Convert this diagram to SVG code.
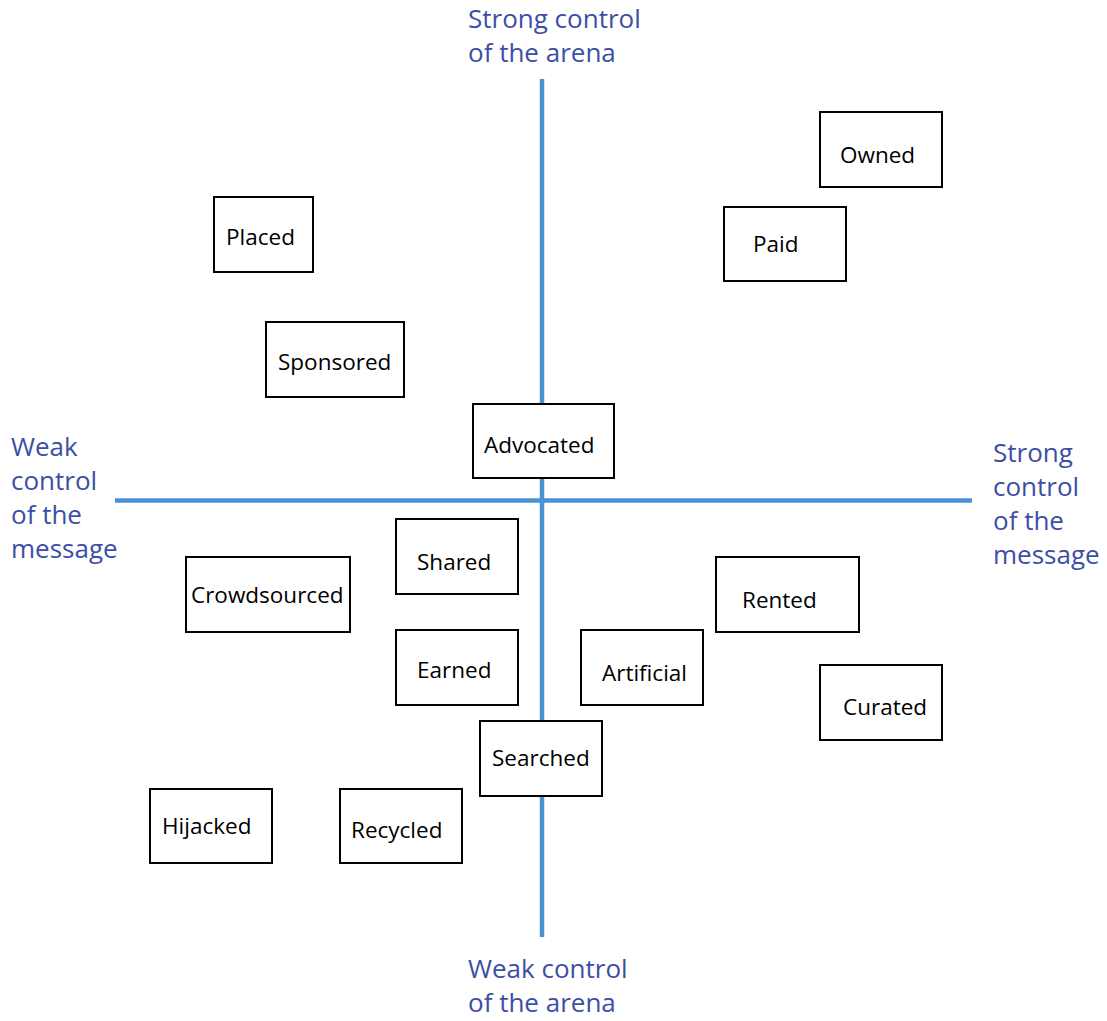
<svg xmlns="http://www.w3.org/2000/svg" width="1107" height="1021" viewBox="0 0 1107 1021">
<style>
.axis{stroke:#4a92d6;stroke-width:4.5;fill:none}
.box{fill:#fff;stroke:#000;stroke-width:2}
.lbl{font-family:"Open Sans","Liberation Sans",sans-serif;font-size:22.5px;fill:#000}
.ax{font-family:"Open Sans","Liberation Sans",sans-serif;font-size:26px;fill:#3d4ea6}
</style>
<rect width="1107" height="1021" fill="#fff"/>
<g id="connectors">
<line class="axis" x1="542" y1="79" x2="542" y2="937"/>
<line class="axis" x1="115" y1="500.5" x2="972" y2="500.5"/>
</g>
<g id="axis-labels">
<text class="ax" x="468" y="28"><tspan x="468" y="28">Strong control</tspan><tspan x="468" y="62">of the arena</tspan></text>
<text class="ax" x="468" y="978"><tspan x="468" y="978">Weak control</tspan><tspan x="468" y="1012">of the arena</tspan></text>
<text class="ax" x="11" y="456"><tspan x="11" y="456">Weak</tspan><tspan x="11" y="490">control</tspan><tspan x="11" y="524">of the</tspan><tspan x="11" y="558">message</tspan></text>
<text class="ax" x="993" y="462"><tspan x="993" y="462">Strong</tspan><tspan x="993" y="496">control</tspan><tspan x="993" y="530">of the</tspan><tspan x="993" y="564">message</tspan></text>
</g>
<g id="owned"><rect class="box" x="820" y="112" width="122" height="75"/><text class="lbl" x="840" y="163">Owned</text></g>
<g id="paid"><rect class="box" x="724" y="207" width="122" height="74"/><text class="lbl" x="753" y="252">Paid</text></g>
<g id="placed"><rect class="box" x="214" y="197" width="99" height="75"/><text class="lbl" x="226" y="245">Placed</text></g>
<g id="sponsored"><rect class="box" x="266" y="322" width="138" height="75"/><text class="lbl" x="278" y="370">Sponsored</text></g>
<g id="advocated"><rect class="box" x="473" y="404" width="141" height="74"/><text class="lbl" x="484" y="453">Advocated</text></g>
<g id="shared"><rect class="box" x="396" y="519" width="122" height="75"/><text class="lbl" x="417" y="570">Shared</text></g>
<g id="crowdsourced"><rect class="box" x="186" y="557" width="164" height="75"/><text class="lbl" x="191" y="603">Crowdsourced</text></g>
<g id="earned"><rect class="box" x="396" y="630" width="122" height="75"/><text class="lbl" x="417" y="678">Earned</text></g>
<g id="artificial"><rect class="box" x="581" y="630" width="122" height="75"/><text class="lbl" x="602" y="681">Artificial</text></g>
<g id="rented"><rect class="box" x="716" y="557" width="143" height="75"/><text class="lbl" x="742" y="608">Rented</text></g>
<g id="curated"><rect class="box" x="820" y="665" width="122" height="75"/><text class="lbl" x="843" y="715">Curated</text></g>
<g id="searched"><rect class="box" x="480" y="721" width="122" height="75"/><text class="lbl" x="492" y="766">Searched</text></g>
<g id="hijacked"><rect class="box" x="150" y="789" width="122" height="74"/><text class="lbl" x="162" y="834">Hijacked</text></g>
<g id="recycled"><rect class="box" x="340" y="789" width="122" height="74"/><text class="lbl" x="351" y="838">Recycled</text></g>
</svg>
